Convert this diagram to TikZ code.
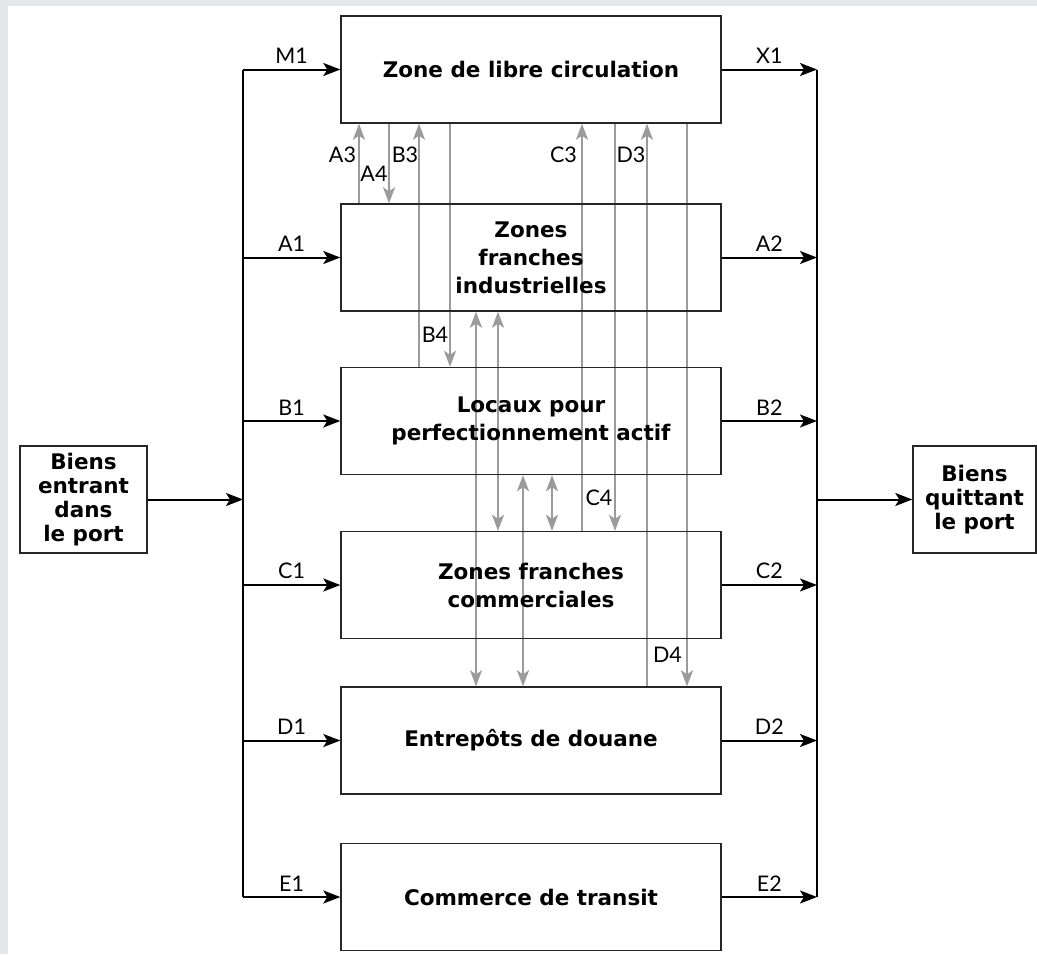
\documentclass[tikz,border=0pt]{standalone}
\usepackage{fontspec}
\setmainfont{Lato}
\newfontfamily\areafont{DejaVu Sans}
\usetikzlibrary{arrows.meta}
\pgfdeclarelayer{paper}
\pgfdeclarelayer{flows}
\pgfsetlayers{paper,flows,main}
\definecolor{pagegray}{HTML}{E6E7E9}
\definecolor{flowgray}{HTML}{9B9B9B}
\tikzset{
  zone/.style={draw=black!85, line width=1.4pt, minimum width=380pt, minimum height=107pt,
    inner sep=0pt, align=center, font=\areafont\bfseries\fontsize{21.5}{28}\selectfont},
  port/.style={draw=black!85, line width=1.4pt, minimum height=107pt, inner sep=0pt,
    align=center, font=\areafont\bfseries\fontsize{21.5}{24}\selectfont},
  bus/.style={line width=2pt, black},
  feed/.style={bus, -{Stealth[length=17pt,width=13pt,inset=4pt]}},
  flowtip/.tip={Stealth[length=16pt,width=12pt,inset=4pt]},
  flow/.style={flowgray, line width=2pt, -flowtip},
  flowboth/.style={flowgray, line width=2pt, flowtip-flowtip},
  tag/.style={font=\fontsize{21.5}{24}\selectfont, inner sep=0pt},
}
\begin{document}
\begin{tikzpicture}[x=1pt, y=-1pt]
\useasboundingbox (0,0) rectangle (1037,954);
\begin{pgfonlayer}{paper}
  \fill[pagegray] (0,0) rectangle (1037,954);
  \fill[white] (8,6) rectangle (1037,954);
\end{pgfonlayer}

% the six areas of the port
\node[zone] (b1) at (531,69.5)  {Zone de libre circulation};
\node[zone] (b2) at (531,257.5) {Zones\\franches\\industrielles};
\node[zone] (b3) at (531,421)   {Locaux pour\\perfectionnement actif};
\node[zone] (b4) at (531,585)   {Zones franches\\commerciales};
\node[zone] (b5) at (531,740.5) {Entrepôts de douane};
\node[zone] (b6) at (531,897)   {Commerce de transit};

% goods in and out
\node[port, minimum width=127pt] (gin)  at (83.5,499.5)  {Biens\\entrant\\dans\\le port};
\node[port, minimum width=123pt] (gout) at (974.5,499.5) {Biens\\quittant\\le port};

% distribution and collection buses
\coordinate (lt) at (243,70);
\coordinate (lb) at (243,897);
\coordinate (rt) at (817,70);
\coordinate (rb) at (817,897);
\draw[bus] (lt) -- (lb);
\draw[bus] (rt) -- (rb);

\draw[feed] (gin.east) -- (gin.east -| lt);
\draw[feed] (gout.west -| rt) -- (gout.west);

\draw[feed] (b1.west -| lt) -- (b1.west) node[tag, midway, above=5pt] {M1};
\draw[feed] (b2.west -| lt) -- (b2.west) node[tag, midway, above=5pt] {A1};
\draw[feed] (b3.west -| lt) -- (b3.west) node[tag, midway, above=5pt] {B1};
\draw[feed] (b4.west -| lt) -- (b4.west) node[tag, midway, above=5pt] {C1};
\draw[feed] (b5.west -| lt) -- (b5.west) node[tag, midway, above=5pt] {D1};
\draw[feed] (b6.west -| lt) -- (b6.west) node[tag, midway, above=5pt] {E1};

\draw[feed] (b1.east) -- (b1.east -| rt) node[tag, midway, above=5pt] {X1};
\draw[feed] (b2.east) -- (b2.east -| rt) node[tag, midway, above=5pt] {A2};
\draw[feed] (b3.east) -- (b3.east -| rt) node[tag, midway, above=5pt] {B2};
\draw[feed] (b4.east) -- (b4.east -| rt) node[tag, midway, above=5pt] {C2};
\draw[feed] (b5.east) -- (b5.east -| rt) node[tag, midway, above=5pt] {D2};
\draw[feed] (b6.east) -- (b6.east -| rt) node[tag, midway, above=5pt] {E2};

% transfers between areas
\coordinate (xA3) at (359,0);
\coordinate (xA4) at (389,0);
\coordinate (xB3) at (419,0);
\coordinate (xB4) at (450,0);
\coordinate (xC3) at (582,0);
\coordinate (xC4) at (615,0);
\coordinate (xD3) at (647,0);
\coordinate (xD4) at (687,0);
\coordinate (xP) at (476,0);
\coordinate (xQ) at (498,0);
\coordinate (xR) at (523,0);
\coordinate (xS) at (552,0);

\begin{pgfonlayer}{flows}
  \draw[flow] (b2.north -| xA3) -- (b1.south -| xA3);
  \draw[flow] (b1.south -| xA4) -- (b2.north -| xA4);
  \draw[flow] (b3.north -| xB3) -- (b1.south -| xB3);
  \draw[flow] (b1.south -| xB4) -- (b3.north -| xB4);
  \draw[flow] (b4.north -| xC3) -- (b1.south -| xC3);
  \draw[flow] (b1.south -| xC4) -- (b4.north -| xC4);
  \draw[flow] (b5.north -| xD3) -- (b1.south -| xD3);
  \draw[flow] (b1.south -| xD4) -- (b5.north -| xD4);
  \draw[flowboth] (b2.south -| xP) -- (b5.north -| xP);
  \draw[flowboth] (b2.south -| xQ) -- (b4.north -| xQ);
  \draw[flowboth] (b3.south -| xR) -- (b5.north -| xR);
  \draw[flowboth] (b3.south -| xS) -- (b4.north -| xS);
\end{pgfonlayer}

\node[tag] (tA3) at (342.5,155) {A3};
\node[tag] (tA4) at (374,174)   {A4};
\node[tag] (tB3) at (405,155)   {B3};
\node[tag] (tB4) at (435,335)   {B4};
\node[tag] (tC3) at (563.5,155) {C3};
\node[tag] (tC4) at (599,498)   {C4};
\node[tag] (tD3) at (631,155)   {D3};
\node[tag] (tD4) at (667.5,655) {D4};
\end{tikzpicture}
\end{document}
